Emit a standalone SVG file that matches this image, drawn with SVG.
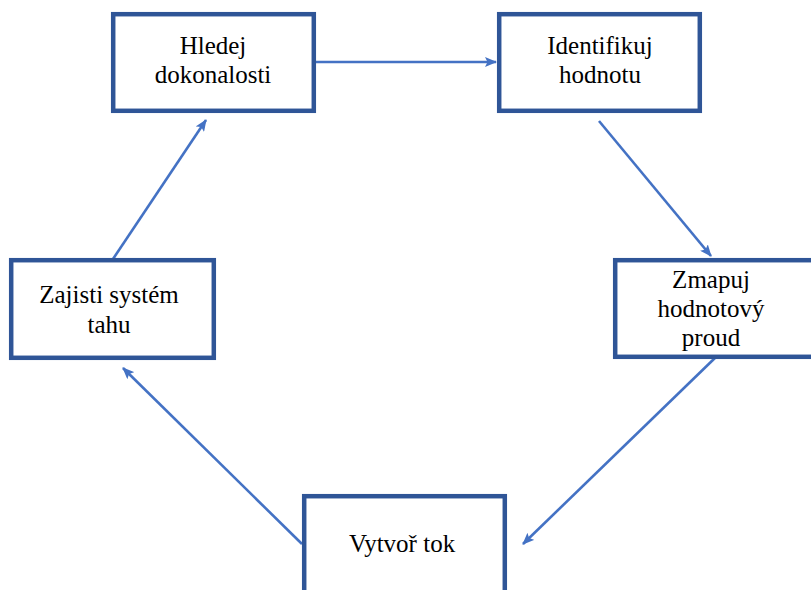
<svg xmlns="http://www.w3.org/2000/svg" width="811" height="590" viewBox="0 0 811 590">
<style>
.box{fill:#fff;stroke:#2F5597;stroke-width:4.5}
.lbl{font-family:"Liberation Serif",serif;font-size:25px;fill:#000;text-anchor:middle}
.conn{stroke:#4472C4;stroke-width:2.6;fill:none;marker-end:url(#ah)}
</style>
<defs>
<marker id="ah" markerUnits="userSpaceOnUse" markerWidth="12" markerHeight="10" refX="11" refY="5" orient="auto">
<path d="M0,0 L12,5 L0,10 L2.5,5 z" fill="#4472C4"/>
</marker>
</defs>
<rect width="811" height="590" fill="#fff"/>
<g id="connectors">
<line class="conn" x1="316" y1="62" x2="496" y2="62"/>
<line class="conn" x1="599" y1="121" x2="711" y2="256"/>
<line class="conn" x1="716" y1="357" x2="523" y2="544"/>
<line class="conn" x1="302" y1="544" x2="123" y2="368"/>
<line class="conn" x1="113" y1="259" x2="206" y2="120"/>
</g>
<g id="n1">
<rect class="box" x="113.2" y="14.2" width="200.6" height="96.6"/>
<text class="lbl" x="213" y="54" font-family="Liberation Serif">Hledej</text>
<text class="lbl" x="213" y="83" font-family="Liberation Serif">dokonalosti</text>
</g>
<g id="n2">
<rect class="box" x="499.2" y="14.2" width="200.6" height="96.6"/>
<text class="lbl" x="600" y="54">Identifikuj</text>
<text class="lbl" x="600" y="83">hodnotu</text>
</g>
<g id="n3">
<rect class="box" x="615.2" y="260.2" width="210" height="96.6"/>
<text class="lbl" x="711" y="288">Zmapuj</text>
<text class="lbl" x="711" y="317">hodnotový</text>
<text class="lbl" x="711" y="346">proud</text>
</g>
<g id="n4">
<rect class="box" x="11.2" y="260.2" width="202.6" height="97.6"/>
<text class="lbl" x="109" y="303">Zajisti systém</text>
<text class="lbl" x="109" y="333">tahu</text>
</g>
<g id="n5">
<rect class="box" x="304.2" y="496.2" width="200.6" height="110"/>
<text class="lbl" x="402" y="552">Vytvoř tok</text>
</g>
</svg>
